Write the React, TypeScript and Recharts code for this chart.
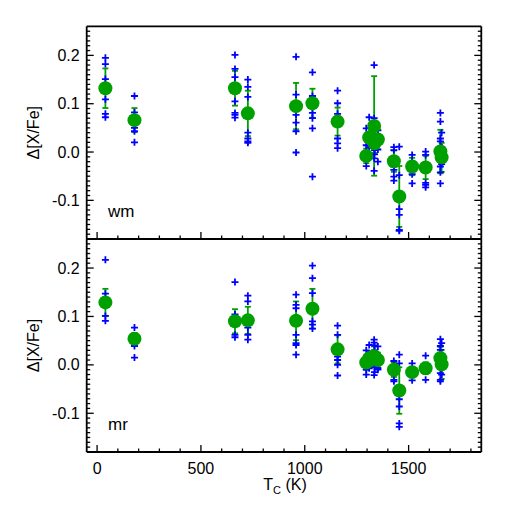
import React from "react";
import { ScatterChart, Scatter, XAxis, YAxis, ErrorBar } from "recharts";

// condensation temperature of each element (K)
const tc = [40, 180, 664, 726, 958, 1037, 1158, 1296, 1310, 1334, 1336, 1352, 1429, 1455, 1517, 1582, 1653, 1659];

// "wm" panel: mean, error and individual stars
const meanWm = [0.132, 0.066, 0.132, 0.08, 0.095, 0.101, 0.063, -0.008, 0.03, 0.054, 0.018, 0.026, -0.019, -0.092, -0.03, -0.032, 0.001, -0.011];
const errWm = [0.041, 0.025, 0.036, 0.047, 0.048, 0.03, 0.029, 0.015, 0.02, 0.103, 0.02, 0.02, 0.022, 0.063, 0.018, 0.024, 0.045, 0.03];
const starsWm = [
  [0.195, 0.182, 0.151, 0.13, 0.109, 0.079, 0.072],
  [0.116, 0.082, 0.06, 0.05, 0.043, 0.02],
  [0.201, 0.172, 0.155, 0.105, 0.081, 0.077, 0.071],
  [0.15, 0.135, 0.114, 0.04, 0.028, 0.022, 0.019],
  [0.197, 0.119, 0.077, 0.061, 0.043, -0.001],
  [0.165, 0.116, 0.081, 0.07, 0.049, -0.051],
  [0.127, 0.101, 0.079, 0.028, 0.018, 0.008],
  [0.049, 0.014, 0.001, -0.018, -0.029],
  [0.072, 0.032, 0.01, -0.005],
  [0.18, 0.07, 0.059, 0.011, -0.013, -0.039],
  [0.06, 0.045, 0.004, -0.005],
  [0.045, 0.03, 0.005, -0.02],
  [0.01, 0.004, -0.03, -0.037, -0.051, -0.059],
  [0.011, -0.048, -0.118, -0.13, -0.161, -0.163],
  [-0.006, -0.02, -0.046, -0.065],
  [0.001, -0.006, -0.064, -0.068, -0.073],
  [0.081, 0.063, 0.028, 0.022, -0.03, -0.042, -0.065],
  [0.04, 0.01, -0.015, -0.025],
];

// "mr" panel
const meanMr = [0.129, 0.054, 0.09, 0.092, 0.091, 0.116, 0.032, 0.005, 0.013, 0.018, 0.015, 0.01, -0.01, -0.053, -0.015, -0.007, 0.014, 0.001];
const errMr = [0.028, 0.012, 0.025, 0.028, 0.04, 0.041, 0.029, 0.015, 0.015, 0.02, 0.015, 0.015, 0.015, 0.048, 0.01, 0.012, 0.023, 0.03];
const starsMr = [
  [0.217, 0.147, 0.101, 0.091],
  [0.077, 0.039, 0.015],
  [0.171, 0.104, 0.062, 0.057],
  [0.143, 0.131, 0.077, 0.062, 0.052],
  [0.145, 0.124, 0.117, 0.062, 0.045, 0.041, 0.021],
  [0.205, 0.179, 0.148, 0.09, 0.083, 0.075],
  [0.081, 0.062, 0.017, 0.01, 0.0, -0.022],
  [0.03, 0.0, -0.01, -0.02],
  [0.041, 0.02, -0.007],
  [0.052, 0.046, 0.025, -0.021],
  [0.04, 0.03, -0.005, -0.015],
  [0.038, 0.02, -0.01, -0.007],
  [0.008, 0.0, -0.031, -0.034],
  [0.021, 0.003, -0.071, -0.086, -0.121, -0.128],
  [0.003, -0.032],
  [0.019, -0.031],
  [0.053, 0.039, 0.031, -0.017, -0.031, -0.034],
  [0.045, 0.02, -0.02],
];

const xMajor = [0, 500, 1000, 1500];
const yMajor = [-0.1, 0.0, 0.1, 0.2];

const X_DOMAIN = [-50, 1850];
const Y_DOMAIN = [-0.18, 0.26];

const xTicks: number[] = [];
for (let v = 0; v <= 1800; v += 100) xTicks.push(v);
const yTicks: number[] = [];
for (let k = -17; k <= 25; k++) yTicks.push(k / 100);

const W = 507;
const H = 507;
const LEFT = 86.7;
const RIGHT = 481.3;
const FONT = "'Liberation Sans', Arial, Helvetica, sans-serif";
const GREEN = "#00a000";
const BLUE = "#0000ff";

const frame = { stroke: "#000", strokeWidth: 1.8 };

const makeTick =
  (side: string, majors: number[], label: ((v: number) => string) | null) =>
  (p: any) => {
    const v = p.payload.value;
    const major = majors.some((m) => Math.abs(m - v) < 1e-6);
    const len = major ? 7 : 3.5;
    const { x, y } = p;
    let l = { x1: x, x2: x, y1: y, y2: y };
    if (side === "left") l.x2 = x + len;
    if (side === "right") l.x2 = x - len;
    if (side === "top") l.y2 = y + len;
    if (side === "bottom") l.y2 = y - len;
    return (
      <g>
        <line {...l} stroke="#000" strokeWidth={1.3} />
        {major && label && side === "left" && (
          <text x={x - 7} y={y} dy="0.35em" textAnchor="end" fontSize={16} fontFamily={FONT} fill="#000">
            {label(v)}
          </text>
        )}
        {major && label && side === "bottom" && (
          <text x={x} y={y + 22} textAnchor="middle" fontSize={16} fontFamily={FONT} fill="#000">
            {label(v)}
          </text>
        )}
      </g>
    );
  };

const Plus = (p: any) => (
  <g stroke={BLUE} strokeWidth={1.8}>
    <line x1={p.cx - 3.5} x2={p.cx + 3.5} y1={p.cy} y2={p.cy} />
    <line x1={p.cx} x2={p.cx} y1={p.cy - 3.5} y2={p.cy + 3.5} />
  </g>
);

const Dot = (p: any) => <circle cx={p.cx} cy={p.cy} r={7} fill={GREEN} />;

interface PanelProps {
  mean: number[];
  err: number[];
  stars: number[][];
  tag: string;
  top: number;
  bottom: number;
  showX: boolean;
}

const Panel = ({ mean, err, stars, tag, top, bottom, showX }: PanelProps) => {
  const meanRows = tc.map((t, i) => ({ tc: t, v: mean[i], err: err[i] }));
  const starRows = tc.flatMap((t, i) => stars[i].map((v) => ({ tc: t, v })));
  const cy = (top + bottom) / 2;

  // axes are 1px thick, so the margins leave room for them
  return (
    <div style={{ position: "absolute", left: 0, top: 0 }}>
      <ScatterChart
        width={W}
        height={H}
        margin={{ top: top - 1, bottom: H - bottom - 1, left: LEFT - 1, right: W - RIGHT - 1 }}
      >
        <XAxis
          xAxisId="b"
          orientation="bottom"
          type="number"
          dataKey="tc"
          domain={X_DOMAIN}
          allowDataOverflow
          ticks={xTicks}
          interval={0}
          height={1}
          tickSize={0}
          tickMargin={0}
          tickLine={false}
          axisLine={frame}
          tick={makeTick("bottom", xMajor, showX ? (v) => String(v) : null)}
        />
        <XAxis
          xAxisId="t"
          orientation="top"
          type="number"
          domain={X_DOMAIN}
          allowDataOverflow
          ticks={xTicks}
          interval={0}
          height={1}
          tickSize={0}
          tickMargin={0}
          tickLine={false}
          axisLine={frame}
          tick={makeTick("top", xMajor, null)}
        />
        <YAxis
          yAxisId="l"
          orientation="left"
          type="number"
          dataKey="v"
          domain={Y_DOMAIN}
          allowDataOverflow
          ticks={yTicks}
          interval={0}
          width={1}
          tickSize={0}
          tickMargin={0}
          tickLine={false}
          axisLine={frame}
          tick={makeTick("left", yMajor, (v) => v.toFixed(1))}
        />
        <YAxis
          yAxisId="r"
          orientation="right"
          type="number"
          domain={Y_DOMAIN}
          allowDataOverflow
          ticks={yTicks}
          interval={0}
          width={1}
          tickSize={0}
          tickMargin={0}
          tickLine={false}
          axisLine={frame}
          tick={makeTick("right", yMajor, null)}
        />
        <Scatter data={meanRows} xAxisId="b" yAxisId="l" shape={() => <g />} isAnimationActive={false}>
          <ErrorBar dataKey="err" direction="y" width={3} stroke={GREEN} strokeWidth={1.8} isAnimationActive={false} />
        </Scatter>
        <Scatter data={starRows} xAxisId="b" yAxisId="l" shape={Plus} isAnimationActive={false} />
        <Scatter data={meanRows} xAxisId="b" yAxisId="l" shape={Dot} isAnimationActive={false} />
      </ScatterChart>
      <svg width={W} height={H} style={{ position: "absolute", left: 0, top: 0 }}>
        <text
          x={39}
          y={cy}
          transform={`rotate(-90, 39, ${cy})`}
          textAnchor="middle"
          fontSize={16}
          fontFamily={FONT}
        >
          Δ[X/Fe]
        </text>
        <text x={108} y={bottom - 22} fontSize={17} fontFamily={FONT}>
          {tag}
        </text>
        {showX && (
          <text x={285} y={490} textAnchor="middle" fontSize={16} fontFamily={FONT}>
            T
            <tspan fontSize={11} dy={4}>C</tspan>
            <tspan dy={-4}> (K)</tspan>
          </text>
        )}
      </svg>
    </div>
  );
};

export default function App() {
  return (
    <div style={{ position: "absolute", left: 0, top: 0, width: W, height: H, background: "#fff" }}>
      <Panel mean={meanWm} err={errWm} stars={starsWm} tag="wm" top={26.4} bottom={239} showX={false} />
      <Panel mean={meanMr} err={errMr} stars={starsMr} tag="mr" top={239} bottom={452} showX={true} />
    </div>
  );
}
